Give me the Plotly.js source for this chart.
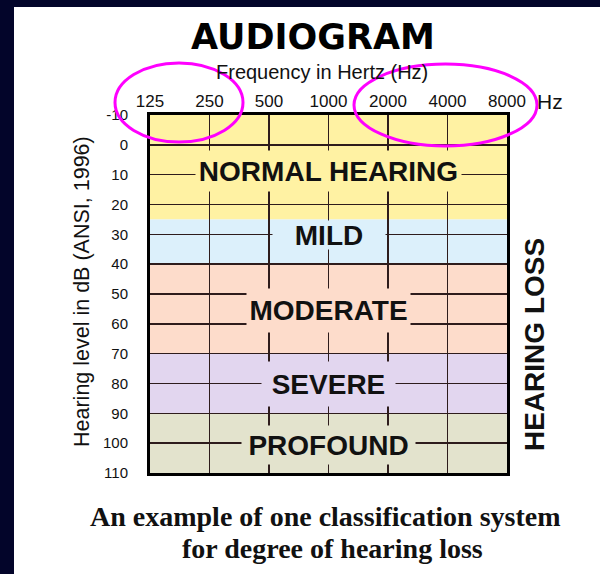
<!DOCTYPE html>
<html>
<head>
<meta charset="utf-8">
<script src="https://cdn.plot.ly/plotly-3.0.1.min.js"></script>
<style>
  html, body { margin: 0; padding: 0; background: #03052a; width: 600px; height: 574px; overflow: hidden; }
  #chart { position: absolute; left: 14px; top: 7px; width: 586px; height: 567px; }
</style>
</head>
<body>
<div id="chart"></div>
<script>
// ---- data ----
const freqs = [125, 250, 500, 1000, 2000, 4000, 8000];
const freqLabels = ['125', '250', '500', '1000', '2000', '4000', '8000'];
const dbTicks = [-10, 0, 10, 20, 30, 40, 50, 60, 70, 80, 90, 100, 110];
const dbLabels = ['-10', '0', '10', '20', '30', '40', '50', '60', '70', '80', '90', '100', '110'];
const degreeNames = ['NORMAL HEARING', 'MILD', 'MODERATE', 'SEVERE', 'PROFOUND'];
const degreeLow = [-10, 25, 40, 70, 90];
const degreeHigh = [25, 40, 70, 90, 110];
const labelLevel = [10, 30, 55, 80, 100];
const labelFreq = [1000, 1000, 1000, 1000, 1000];

// ---- styles ----
const bandColors = ['#fff2a3', '#dcf0fb', '#fddccb', '#e2d6ef', '#e3e3cd'];
const maskW = [265, 112, 163, 133, 173];
const maskH = [40, 28, 43, 44, 38];
const maskShiftY = [4, -1, -2, 0, -2];

// plot-area geometry in page px (for paper coordinates)
const PL = 150, PR = 507, PT = 115, PB = 473;
const xp = X => (X - PL) / (PR - PL);
const yp = Y => (PB - Y) / (PB - PT);

const shapes = degreeNames.map((n, i) => ({
  type: 'rect', layer: 'below', xref: 'paper', yref: 'y',
  x0: 0, x1: 1, y0: degreeLow[i], y1: degreeHigh[i],
  fillcolor: bandColors[i], line: { width: 0 }
}));
// magenta highlight ellipses
shapes.push({ type: 'circle', layer: 'above', xref: 'paper', yref: 'paper',
  x0: xp(115), x1: xp(243), y0: yp(142), y1: yp(63),
  line: { color: '#ff00ff', width: 3 }, fillcolor: 'rgba(0,0,0,0)' });
shapes.push({ type: 'circle', layer: 'above', xref: 'paper', yref: 'paper',
  x0: xp(354), x1: xp(537), y0: yp(146), y1: yp(64),
  line: { color: '#ff00ff', width: 3 }, fillcolor: 'rgba(0,0,0,0)' });

const annotations = degreeNames.map((n, i) => ({
  text: n, x: Math.log10(labelFreq[i]), y: labelLevel[i], xref: 'x', yref: 'y',
  showarrow: false, xanchor: 'center', yanchor: 'middle',
  width: maskW[i], height: maskH[i], yshift: maskShiftY[i],
  bgcolor: bandColors[i], borderpad: 0,
  font: { family: 'Liberation Sans, Arial, sans-serif', size: 28, color: '#111', weight: 'bold' }
}));

annotations.push(
  { text: 'Frequency in Hertz (Hz)', xref: 'paper', yref: 'paper', x: xp(322), y: yp(72),
    showarrow: false, xanchor: 'center', yanchor: 'middle',
    font: { family: 'Liberation Sans, Arial, sans-serif', size: 20, color: '#111' } },
  { text: 'Hz', xref: 'paper', yref: 'paper', x: xp(550), y: yp(101),
    showarrow: false, xanchor: 'center', yanchor: 'middle',
    font: { family: 'Liberation Sans, Arial, sans-serif', size: 21, color: '#111' } },
  { text: 'Hearing level in dB (ANSI, 1996)', xref: 'paper', yref: 'paper', x: xp(82), y: yp(292),
    showarrow: false, xanchor: 'center', yanchor: 'middle', textangle: -90,
    font: { family: 'Liberation Sans, Arial, sans-serif', size: 21.5, color: '#111' } },
  { text: 'HEARING LOSS', xref: 'paper', yref: 'paper', x: xp(534), y: yp(345),
    showarrow: false, xanchor: 'center', yanchor: 'middle', textangle: -90,
    font: { family: 'Liberation Sans, Arial, sans-serif', size: 28, color: '#111', weight: 'bold' } },
  { text: 'An example of one classification system', xref: 'paper', yref: 'paper', x: xp(325), y: yp(516),
    showarrow: false, xanchor: 'center', yanchor: 'middle',
    font: { family: 'Liberation Serif, Times New Roman, serif', size: 28, color: '#111', weight: 'bold' } },
  { text: 'for degree of hearing loss', xref: 'paper', yref: 'paper', x: xp(332), y: yp(548),
    showarrow: false, xanchor: 'center', yanchor: 'middle',
    font: { family: 'Liberation Serif, Times New Roman, serif', size: 28, color: '#111', weight: 'bold' } }
);

const trace = {
  x: freqs, y: freqs.map(() => null), type: 'scatter', mode: 'markers',
  hoverinfo: 'skip', showlegend: false
};

const layout = {
  width: 586, height: 567,
  margin: { l: PL - 14, r: 600 - PR, t: PT - 7, b: 574 - PB, pad: 0 },
  paper_bgcolor: '#ffffff', plot_bgcolor: 'rgba(0,0,0,0)',
  showlegend: false,
  title: { text: 'AUDIOGRAM', x: (313 - 14) / 586, xref: 'container', y: 1 - (37 - 7) / 567, yref: 'container',
    xanchor: 'center', yanchor: 'middle', pad: { t: 0, b: 0, l: 0, r: 0 },
    font: { family: 'DejaVu Sans, sans-serif', size: 35, color: '#000', weight: 'bold' } },
  xaxis: {
    type: 'log', side: 'top', range: [Math.log10(freqs[0]), Math.log10(freqs[freqs.length - 1])],
    tickmode: 'array', tickvals: freqs, ticktext: freqLabels,
    showgrid: true, gridcolor: '#2e1c1c', gridwidth: 1.5,
    showline: true, mirror: true, linecolor: '#000', linewidth: 3,
    zeroline: false, ticks: '', ticklabelstandoff: -2,
    tickfont: { family: 'Liberation Sans, Arial, sans-serif', size: 17, color: '#111' },
    fixedrange: true
  },
  yaxis: {
    range: [dbTicks[dbTicks.length - 1], dbTicks[0]],
    tickmode: 'array', tickvals: dbTicks, ticktext: dbLabels,
    showgrid: true, gridcolor: '#2e1c1c', gridwidth: 1.5,
    showline: true, mirror: true, linecolor: '#000', linewidth: 3,
    zeroline: false, ticks: '', ticklabelstandoff: 16,
    tickfont: { family: 'Liberation Sans, Arial, sans-serif', size: 15, color: '#111' },
    fixedrange: true
  },
  shapes: shapes,
  annotations: annotations
};

Plotly.newPlot('chart', [trace], layout, { displayModeBar: false, staticPlot: true });
</script>
</body>
</html>
